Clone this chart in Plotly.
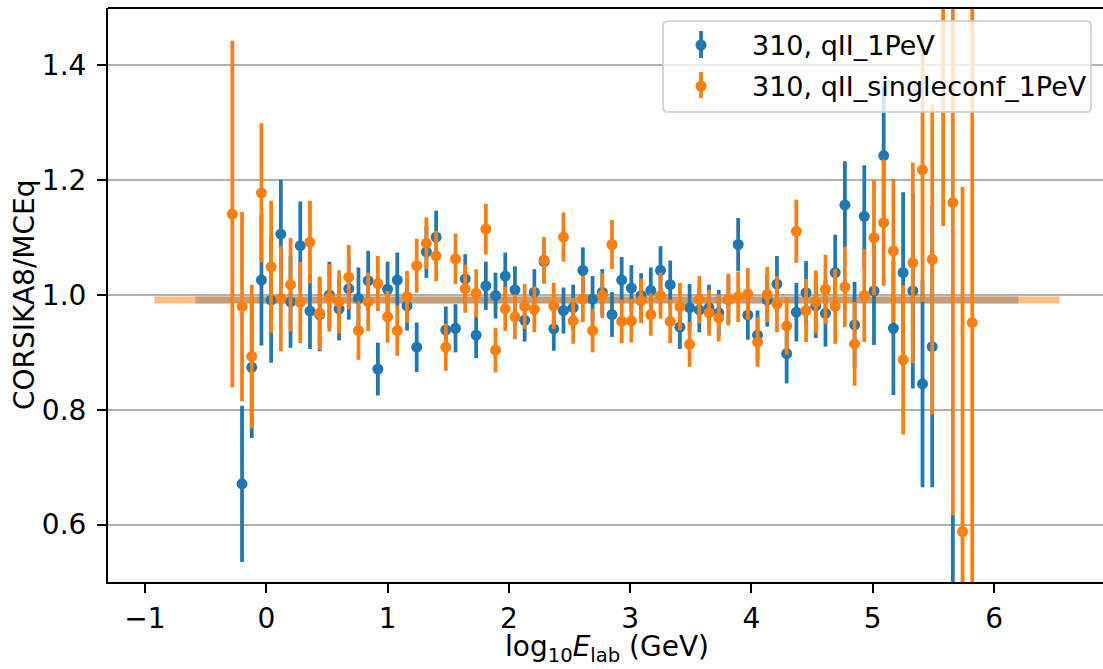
import plotly.graph_objects as go

# bin centres, log10(E_lab / GeV)
x_bins = [-0.28, -0.20, -0.12, -0.04, 0.04, 0.12, 0.20, 0.28, 0.36, 0.44,
          0.52, 0.60, 0.68, 0.76, 0.84, 0.92, 1.00, 1.08, 1.16, 1.24,
          1.32, 1.40, 1.48, 1.56, 1.64, 1.73, 1.81, 1.89, 1.97, 2.05,
          2.13, 2.21, 2.29, 2.37, 2.45, 2.53, 2.61, 2.69, 2.77, 2.85,
          2.93, 3.01, 3.09, 3.17, 3.25, 3.33, 3.41, 3.49, 3.57, 3.65,
          3.73, 3.81, 3.89, 3.97, 4.05, 4.13, 4.21, 4.29, 4.37, 4.45,
          4.53, 4.61, 4.69, 4.77, 4.85, 4.93, 5.01, 5.09, 5.17, 5.25,
          5.33, 5.41, 5.49, 5.58, 5.66, 5.74, 5.82]

# 310, qII_1PeV
blue_y = [None, 0.671, 0.874, 1.026, 0.991, 1.106, 0.988, 1.086, 0.972, 0.966,
          1.000, 0.976, 1.011, 0.994, 1.025, 0.871, 1.010, 1.026, 0.981, 0.909,
          1.075, 1.101, 0.939, 0.942, 1.028, 0.930, 1.016, 0.999, 1.033, 1.009,
          0.956, 1.005, 1.058, 0.941, 0.973, 0.978, 1.043, 0.993, 1.005, 0.966,
          1.026, 1.012, 0.999, 1.008, 1.043, 1.018, 0.944, 0.978, 0.974, 0.978,
          0.969, 0.992, 1.088, 0.965, 0.930, 0.991, 1.019, 0.898, 0.970, 1.004,
          0.981, 0.968, 1.039, 1.157, 0.948, 1.137, 1.007, 1.243, 0.942, 1.039,
          1.007, 0.845, 0.910, None, 0.350, None, None]
blue_err = [None, 0.136, 0.123, 0.114, 0.109, 0.095, 0.080, 0.077, 0.066, 0.064,
            0.058, 0.055, 0.054, 0.054, 0.052, 0.046, 0.048, 0.048, 0.043, 0.043,
            0.045, 0.046, 0.041, 0.042, 0.043, 0.040, 0.042, 0.040, 0.041, 0.041,
            0.037, 0.040, 0.038, 0.038, 0.040, 0.040, 0.040, 0.040, 0.040, 0.039,
            0.040, 0.040, 0.039, 0.040, 0.042, 0.042, 0.038, 0.041, 0.039, 0.040,
            0.040, 0.042, 0.046, 0.043, 0.043, 0.046, 0.049, 0.052, 0.051, 0.055,
            0.056, 0.058, 0.066, 0.076, 0.075, 0.089, 0.094, 0.120, 0.116, 0.140,
            0.170, 0.180, 0.245, None, 0.267, None, None]

# 310, qII_singleconf_1PeV
orange_y = [1.141, 0.980, 0.893, 1.178, 1.049, 0.994, 1.018, 0.987, 1.092, 0.968,
            0.995, 0.988, 1.031, 0.938, 0.988, 1.020, 0.962, 0.938, 0.997, 1.051,
            1.090, 1.068, 0.909, 1.063, 1.011, 1.003, 1.115, 0.904, 0.976, 0.962,
            0.980, 0.975, 1.061, 0.981, 1.101, 0.955, 0.993, 0.938, 0.999, 1.088,
            0.954, 0.955, 0.990, 0.966, 0.999, 0.954, 0.980, 0.914, 0.992, 0.969,
            0.960, 0.992, 0.997, 1.002, 0.918, 1.001, 0.984, 0.946, 1.111, 0.973,
            0.988, 1.010, 0.980, 1.014, 0.915, 0.999, 1.100, 1.126, 1.077, 0.887,
            1.056, 1.218, 1.062, 1.550, 1.161, 0.588, 0.952]
orange_err = [0.302, 0.165, 0.125, 0.121, 0.115, 0.092, 0.081, 0.071, 0.072, 0.064,
              0.059, 0.055, 0.056, 0.051, 0.051, 0.048, 0.045, 0.044, 0.045, 0.047,
              0.045, 0.044, 0.041, 0.044, 0.042, 0.042, 0.044, 0.039, 0.039, 0.039,
              0.039, 0.040, 0.040, 0.040, 0.043, 0.040, 0.040, 0.038, 0.039, 0.043,
              0.038, 0.038, 0.039, 0.037, 0.040, 0.038, 0.041, 0.039, 0.041, 0.040,
              0.041, 0.045, 0.044, 0.045, 0.043, 0.048, 0.049, 0.050, 0.055, 0.055,
              0.055, 0.060, 0.065, 0.070, 0.073, 0.081, 0.100, 0.110, 0.125, 0.130,
              0.175, 0.230, 0.270, 0.430, 0.544, 0.600, 0.900]

series_names = ["310, qII_1PeV", "310, qII_singleconf_1PeV"]

# reference bands
band_blue_x = [-0.585, 6.20]
band_orange_x = [-0.923, 6.54]
band_level = 0.9915

x_ticks = [-1, 0, 1, 2, 3, 4, 5, 6]
y_ticks = [0.6, 0.8, 1.0, 1.2, 1.4]

C_BLUE = "#1f77b4"
C_ORANGE = "#ff7f0e"
FONT = "DejaVu Sans"
FS = 28
FS_LEG = 27

W, H = 1103, 669
ML, MR, MT, MB = 108, 0, 8, 87
PW, PH = W - ML - MR, H - MT - MB


def px(xp):
    return (xp - ML) / PW


def py(yp):
    return (H - MB - yp) / PH


fig = go.Figure()

fig.add_trace(go.Scatter(x=band_blue_x, y=[band_level] * 2, mode="lines",
                         line=dict(color="rgba(31,119,180,0.5)", width=7),
                         showlegend=False, hoverinfo="skip"))
fig.add_trace(go.Scatter(x=band_orange_x, y=[band_level] * 2, mode="lines",
                         line=dict(color="rgba(255,127,14,0.5)", width=7),
                         showlegend=False, hoverinfo="skip"))

fig.add_trace(go.Scatter(
    x=x_bins, y=blue_y, mode="markers", name=series_names[0], showlegend=False,
    marker=dict(color=C_BLUE, size=11),
    error_y=dict(type="data", array=blue_err, color=C_BLUE, thickness=3.75, width=0),
))
fig.add_trace(go.Scatter(
    x=x_bins, y=orange_y, mode="markers", name=series_names[1], showlegend=False,
    marker=dict(color=C_ORANGE, size=11),
    error_y=dict(type="data", array=orange_err, color=C_ORANGE, thickness=3.75, width=0),
))

# ---- matplotlib-style legend box (drawn above the data) ----
lx0, lx1, ly0, ly1, r = 663, 1091, 21, 112, 5
pts = [
    ("M", lx0 + r, ly0), ("L", lx1 - r, ly0), ("Q", lx1, ly0, lx1, ly0 + r),
    ("L", lx1, ly1 - r), ("Q", lx1, ly1, lx1 - r, ly1),
    ("L", lx0 + r, ly1), ("Q", lx0, ly1, lx0, ly1 - r),
    ("L", lx0, ly0 + r), ("Q", lx0, ly0, lx0 + r, ly0),
]
path = ""
for p in pts:
    if p[0] == "Q":
        path += f"Q {px(p[1]):.5f},{py(p[2]):.5f} {px(p[3]):.5f},{py(p[4]):.5f} "
    else:
        path += f"{p[0]} {px(p[1]):.5f},{py(p[2]):.5f} "
path += "Z"

shapes = [
    dict(type="line", xref="paper", yref="paper", x0=0, x1=1, y0=1, y1=1,
         line=dict(color="black", width=2), layer="above"),
    dict(type="path", xref="paper", yref="paper", path=path,
         fillcolor="rgba(255,255,255,0.8)", line=dict(color="rgba(204,204,204,0.8)", width=2),
         layer="above"),
]
annotations = []
leg_rows = [(45, 31, 58, C_BLUE), (86, 72, 98, C_ORANGE)]
mx, mr = 701, 5.5
for (cy, t, b, col), name in zip(leg_rows, series_names):
    shapes.append(dict(type="line", xref="paper", yref="paper",
                       x0=px(mx), x1=px(mx), y0=py(t), y1=py(b),
                       line=dict(color=col, width=3.75), layer="above"))
    shapes.append(dict(type="circle", xref="paper", yref="paper",
                       x0=px(mx - mr), x1=px(mx + mr), y0=py(cy + mr), y1=py(cy - mr),
                       fillcolor=col, line=dict(width=0), layer="above"))
    annotations.append(dict(text=name, xref="paper", yref="paper", x=px(750), y=py(cy),
                            xanchor="left", yanchor="middle", showarrow=False,
                            font=dict(family=FONT, size=FS_LEG, color="black")))

# axis titles
annotations.append(dict(text="CORSIKA8/MCEq", xref="paper", yref="paper",
                        x=px(24), y=0.5, xanchor="center", yanchor="middle",
                        textangle=-90, showarrow=False,
                        font=dict(family=FONT, size=FS, color="black")))
annotations.append(dict(text="log<sub>10</sub><i>E</i><sub>lab</sub> (GeV)",
                        xref="paper", yref="paper",
                        x=px(607), y=py(669), xanchor="center", yanchor="bottom",
                        showarrow=False,
                        font=dict(family=FONT, size=FS, color="black")))

fig.update_layout(
    width=W, height=H,
    margin=dict(l=ML, r=MR, t=MT, b=MB, autoexpand=False),
    paper_bgcolor="white", plot_bgcolor="white",
    font=dict(family=FONT, size=FS, color="black"),
    showlegend=False,
    shapes=shapes, annotations=annotations,
)

fig.update_xaxes(
    range=[-1.305, 6.898], tickvals=x_ticks,
    ticktext=[("\u2212" + str(-v)) if v < 0 else str(v) for v in x_ticks],
    showgrid=False, zeroline=False,
    showline=True, linecolor="black", linewidth=2,
    ticks="outside", ticklen=9, tickwidth=2, tickcolor="black",
    ticklabelstandoff=1, automargin=False,
)
fig.update_yaxes(
    range=[0.5, 1.5], tickvals=y_ticks, ticktext=[f"{v:.1f}" for v in y_ticks],
    showgrid=True, gridcolor="#b0b0b0", gridwidth=2, zeroline=False,
    showline=True, linecolor="black", linewidth=2,
    ticks="outside", ticklen=9, tickwidth=2, tickcolor="black",
    ticklabelstandoff=5, automargin=False,
)

fig.write_html("out.html", config={"displayModeBar": False},
               post_script="document.body.style.margin='0px';document.body.style.overflow='hidden';")
